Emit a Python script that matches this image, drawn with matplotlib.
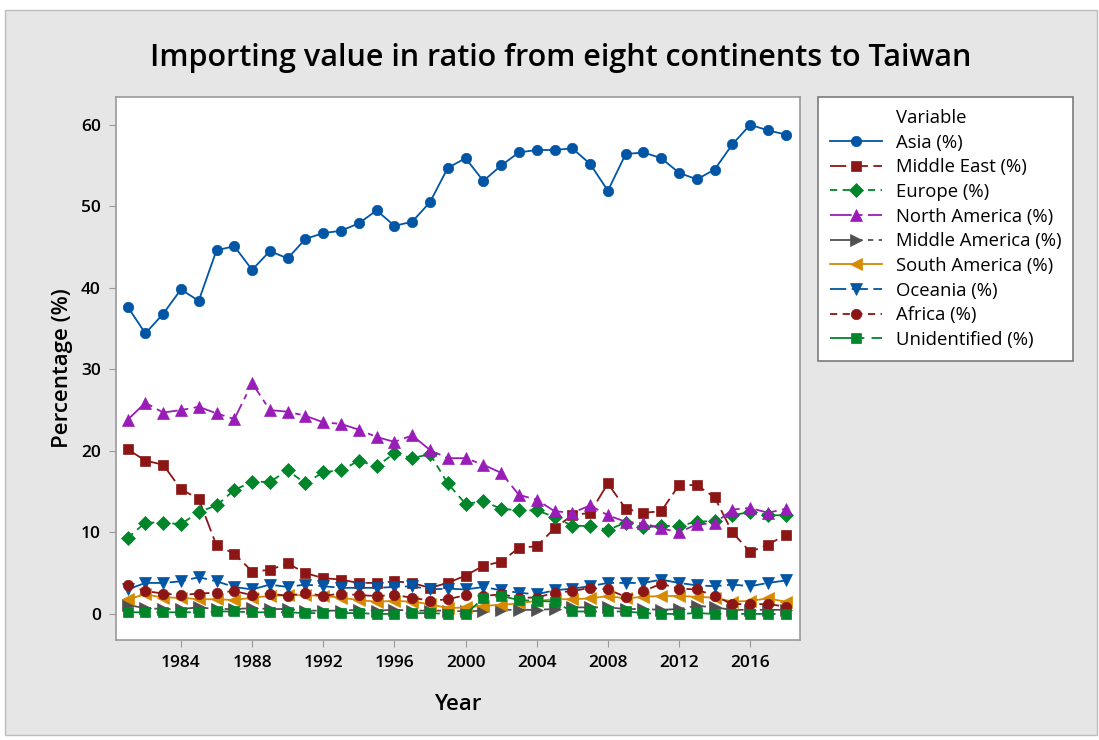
import matplotlib
matplotlib.use('Agg')
import matplotlib.pyplot as plt
from matplotlib.patches import Rectangle
from matplotlib.lines import Line2D
import numpy as np

plt.rcParams['font.family'] = ['Open Sans', 'DejaVu Sans']

years = np.arange(1981, 2019)

asia = [37.7, 34.4, 36.8, 39.8, 38.4, 44.6, 45.1, 42.2, 44.5, 43.6,
        46.0, 46.7, 47.0, 47.9, 49.5, 47.6, 48.1, 50.5, 54.7, 55.9,
        53.1, 55.0, 56.6, 56.9, 56.9, 57.1, 55.2, 51.9, 56.4, 56.6,
        55.9, 54.1, 53.3, 54.5, 57.6, 60.0, 59.3, 58.8]
middle_east = [20.2, 18.8, 18.3, 15.3, 14.1, 8.4, 7.4, 5.2, 5.4, 6.2,
               5.0, 4.4, 4.2, 3.8, 3.8, 4.0, 3.8, 3.2, 3.8, 4.7,
               5.9, 6.4, 8.1, 8.3, 10.5, 12.1, 12.4, 16.0, 12.9, 12.4,
               12.6, 15.8, 15.8, 14.3, 10.0, 7.6, 8.5, 9.7]
europe = [9.3, 11.2, 11.2, 11.0, 12.5, 13.3, 15.2, 16.2, 16.2, 17.6,
          16.0, 17.4, 17.6, 18.8, 18.1, 19.7, 19.1, 19.6, 16.0, 13.5,
          13.8, 12.9, 12.7, 12.7, 11.9, 10.8, 10.8, 10.3, 11.2, 10.6,
          10.8, 10.8, 11.3, 11.4, 12.1, 12.5, 12.1, 12.1]
north_america = [23.8, 25.9, 24.7, 25.0, 25.4, 24.6, 23.9, 28.3, 25.0, 24.8,
                 24.3, 23.5, 23.3, 22.6, 21.7, 21.1, 21.9, 20.1, 19.1, 19.1,
                 18.3, 17.3, 14.6, 14.0, 12.6, 12.4, 13.3, 12.1, 11.3, 11.1,
                 10.5, 10.0, 11.0, 11.1, 12.8, 13.0, 12.4, 12.9]
middle_america = [1.1, 0.7, 0.6, 0.6, 0.8, 0.6, 0.6, 0.7, 0.6, 0.6,
                  0.4, 0.4, 0.4, 0.5, 0.4, 0.5, 0.4, 0.4, 0.4, 0.3,
                  0.4, 0.5, 0.5, 0.5, 0.6, 0.8, 0.8, 0.8, 0.6, 0.6,
                  0.5, 0.6, 1.0, 0.8, 0.5, 0.5, 0.5, 0.5]
south_america = [1.8, 2.4, 2.0, 2.0, 1.8, 1.8, 1.7, 2.0, 2.2, 2.3,
                 2.3, 2.2, 2.0, 1.7, 1.5, 1.6, 1.5, 1.2, 0.7, 0.8,
                 1.0, 1.1, 1.3, 1.6, 1.8, 1.8, 1.9, 2.2, 1.9, 2.1,
                 2.2, 2.2, 2.1, 2.0, 1.5, 1.6, 1.9, 1.5]
oceania = [3.0, 3.8, 3.8, 4.0, 4.5, 4.0, 3.3, 3.0, 3.6, 3.3,
           3.6, 3.4, 3.2, 3.2, 3.2, 3.3, 3.4, 3.0, 3.1, 3.0,
           3.3, 2.9, 2.6, 2.4, 2.9, 3.1, 3.4, 3.8, 3.8, 3.8,
           4.2, 3.8, 3.5, 3.4, 3.6, 3.4, 3.8, 4.1]
africa = [3.5, 2.8, 2.5, 2.3, 2.5, 2.6, 2.8, 2.3, 2.5, 2.2,
          2.6, 2.2, 2.5, 2.3, 2.2, 2.3, 2.0, 1.6, 1.8, 2.3,
          2.2, 2.4, 2.0, 2.0, 2.6, 2.8, 3.2, 3.0, 2.1, 2.8,
          3.7, 3.1, 3.0, 2.2, 1.2, 1.2, 1.2, 0.9]
unidentified = [0.2, 0.2, 0.2, 0.2, 0.2, 0.3, 0.3, 0.2, 0.2, 0.2,
                0.1, 0.1, 0.1, 0.1, 0.0, 0.0, 0.1, 0.1, 0.0, 0.0,
                1.9, 2.2, 1.7, 1.6, 1.5, 0.3, 0.3, 0.3, 0.3, 0.1,
                0.0, 0.0, 0.1, 0.0, 0.0, 0.0, 0.0, 0.0]

labels = ['Asia (%)', 'Middle East (%)', 'Europe (%)', 'North America (%)',
          'Middle America (%)', 'South America (%)', 'Oceania (%)',
          'Africa (%)', 'Unidentified (%)']

blue = '#0055A5'
red = '#8C1515'
green = '#00852A'
purple = '#9A1CB8'
gray = '#505050'
orange = '#D68A00'

# (data, color, marker, linestyle)
series = [
  (asia, blue, 'o', '-'),
  (middle_east, red, 's', (0, (9, 3))),
  (europe, green, 'D', (0, (4, 3))),
  (north_america, purple, '^', (0, (12, 3, 3, 3))),
  (middle_america, gray, '>', (0, (12, 3, 3, 3, 3, 3))),
  (south_america, orange, '<', '-'),
  (oceania, blue, 'v', (0, (9, 3))),
  (africa, red, 'o', (0, (4, 3))),
  (unidentified, green, 's', (0, (12, 4, 3, 4))),
]

fig = plt.figure(figsize=(10.99, 7.40), dpi=100)
fig.patch.set_facecolor('white')
fig.patches.append(Rectangle((5/1099, 5/740), 1092/1099, 725/740, transform=fig.transFigure,
                             facecolor='#E6E6E6', edgecolor='#BDBDBD', lw=1, zorder=-5))

ax = fig.add_axes([116/1099, 1 - 640/740, 684/1099, 543/740])
ax.set_facecolor('white')
handles = []
for (vals, c, m, ls), lab in zip(series, labels):
  ms = 7.5 if m in ('o', 's') else 8.5
  if m == 'D':
    ms = 7
  h, = ax.plot(years, vals, color=c, marker=m, linestyle=ls, lw=1.3, ms=ms,
               markeredgewidth=0.5, label=lab)
  handles.append(h)

ax.set_xlim(1980.35, 2018.8)
ax.set_ylim(-3.2, 63.4)
ax.set_xticks(np.arange(1984, 2017, 4))
ax.set_yticks(np.arange(0, 61, 10))
for sp in ax.spines.values():
  sp.set_color('#9A9A9A')
  sp.set_linewidth(1.2)
ax.tick_params(direction='out', length=5, color='#9A9A9A', labelsize=12.5, pad=6)
for t in ax.get_xticklabels() + ax.get_yticklabels():
  t.set_fontweight('semibold')

ax.set_xlabel('Year', fontsize=16, fontweight='semibold', labelpad=16)
ax.set_ylabel('Percentage (%)', fontsize=16, fontweight='semibold', labelpad=6)

fig.text(561/1099, 1 - 58/740, 'Importing value in ratio from eight continents to Taiwan',
         ha='center', va='center', fontsize=22, fontweight='semibold')

title_h = Line2D([], [], linestyle='none', marker=None)
leg = fig.legend([title_h] + handles, ['Variable'] + labels,
                 loc='upper left', bbox_to_anchor=(818/1099, 1 - 97/740),
                 fontsize=13.3, frameon=True, fancybox=False, edgecolor='#7A7A7A',
                 facecolor='white', framealpha=1,
                 handlelength=2.8, handletextpad=0.75, labelspacing=0.36,
                 borderpad=0.65, borderaxespad=0)
leg.get_frame().set_linewidth(1.2)

fig.savefig('out.png', dpi=100, facecolor=fig.get_facecolor())
